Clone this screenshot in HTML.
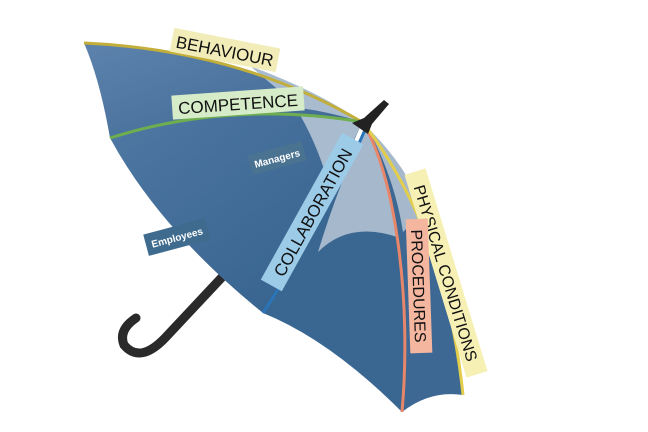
<!DOCTYPE html>
<html><head><style>
html,body{margin:0;padding:0;background:#fff;}
svg{display:block;}
text{font-family:"Liberation Sans",sans-serif;}
</style></head><body>
<svg width="648" height="432" viewBox="0 0 648 432" xmlns="http://www.w3.org/2000/svg">
<defs>
<linearGradient id="g1" x1="0" y1="0" x2="1" y2="1">
<stop offset="0" stop-color="#5d83ad"/><stop offset="1" stop-color="#3d6792"/>
</linearGradient>
<linearGradient id="g2" x1="0" y1="0" x2="1" y2="1">
<stop offset="0" stop-color="#4f78a3"/><stop offset="1" stop-color="#33608c"/>
</linearGradient>
</defs>
<path d="M240,258 L165,338 Q140,364 124,345 Q118,330 136,318" fill="none" stroke="#2a2a2a" stroke-width="9" stroke-linecap="round"/>
<path d="M84,43 Q240,50 362,122 Q230,100 110,138 Q100,80 84,43 Z" fill="url(#g1)"/>
<path d="M250,66 Q320,92 362,122 Q330,112 300,108 Z" fill="#a9bccf"/>
<path d="M110,138 Q230,100 362,122 Q330,200 263,313 Q160,230 110,138 Z" fill="url(#g2)"/>
<path d="M300,115 Q340,118 362,122 Q345,160 330,190 Q320,150 300,115 Z" fill="#a9bccf"/>
<path d="M366,128 C395,180 412,300 402,412 Q330,340 263,313 Q320,210 366,128 Z" fill="#3a6792"/>
<path d="M366,128 C382,160 395,200 400,238 Q350,220 318,252 Q340,180 366,128 Z" fill="#a6b9cc"/>
<path d="M364,124 Q446,231 463,395 Q430,390 402,412 C412,300 395,180 366,128 Z" fill="#3c6893"/>
<path d="M368,128 Q410,170 425,215 Q412,222 403,232 Q395,180 368,128 Z" fill="#a6b9cc"/>
<path d="M84,43 Q240,50 362,122" fill="none" stroke="#c2ae3a" stroke-width="3"/>
<path d="M110,138 Q230,100 362,122" fill="none" stroke="#6fae4f" stroke-width="3"/>
<path d="M365,130 Q330,210 263,313" fill="none" stroke="#2a74b8" stroke-width="3"/>
<path d="M366,128 C395,180 412,300 402,412" fill="none" stroke="#e8866a" stroke-width="3"/>
<path d="M364,124 Q446,231 463,395" fill="none" stroke="#e2cd4c" stroke-width="3"/>
<path d="M352,123 L364,118 L384,100 L389,104 L372,124 L368,134 Z" fill="#222"/>
<g transform="translate(225,50) rotate(11)"><rect x="-54" y="-12" width="108" height="24" fill="#f2edb8"/><text x="0" y="7" text-anchor="middle" font-size="17" fill="#111">BEHAVIOUR</text></g>
<g transform="translate(238,103) rotate(-4)"><rect x="-66" y="-12" width="132" height="24" fill="#d6ecc9"/><text x="0" y="7" text-anchor="middle" font-size="17" fill="#111">COMPETENCE</text></g>
<g transform="translate(277,158) rotate(-15)"><rect x="-28" y="-10" width="56" height="20" fill="#4a7291"/><text x="0" y="4" text-anchor="middle" font-size="10" font-weight="bold" fill="#fff">Managers</text></g>
<g transform="translate(177,237) rotate(-15)"><rect x="-32" y="-11" width="64" height="22" fill="#3e6b8e"/><text x="0" y="4" text-anchor="middle" font-size="10" font-weight="bold" fill="#fff">Employees</text></g>
<g transform="translate(312,212) rotate(-61)"><rect x="-84" y="-12" width="168" height="24" fill="#9ccbe8"/><text x="0" y="7" text-anchor="middle" font-size="17" fill="#111">COLLABORATION</text></g>
<g transform="translate(446,273) rotate(73)"><rect x="-106" y="-11" width="212" height="22" fill="#f7f0b4"/><text x="0" y="6" text-anchor="middle" font-size="16" fill="#111">PHYSICAL CONDITIONS</text></g>
<g transform="translate(419,286) rotate(88)"><rect x="-67" y="-11" width="134" height="22" fill="#f5b6a0"/><text x="0" y="6" text-anchor="middle" font-size="16" fill="#111">PROCEDURES</text></g>
</svg>
</body></html>
